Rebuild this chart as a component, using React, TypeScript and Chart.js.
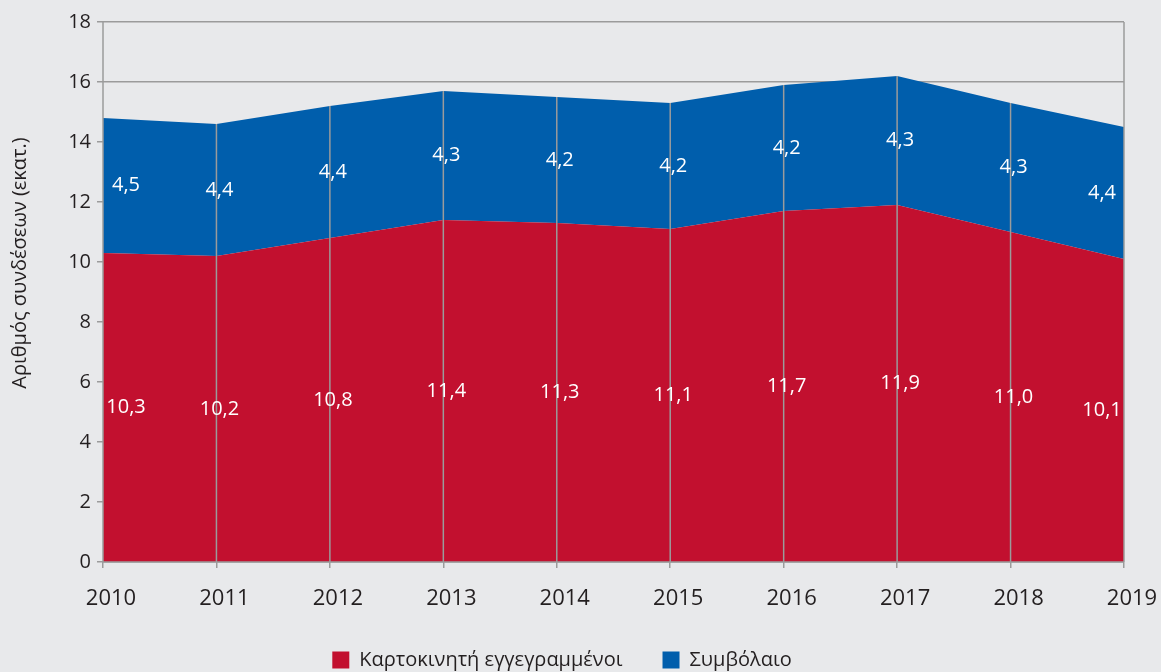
import React, { useEffect, useRef } from 'react';
import { Chart, registerables } from 'chart.js';

Chart.register(...registerables);

const years = ['2010', '2011', '2012', '2013', '2014', '2015', '2016', '2017', '2018', '2019'];
const prepaid = [10.3, 10.2, 10.8, 11.4, 11.3, 11.1, 11.7, 11.9, 11.0, 10.1];
const contract = [4.5, 4.4, 4.4, 4.3, 4.2, 4.2, 4.2, 4.3, 4.3, 4.4];
const seriesNames = ['Καρτοκινητή εγγεγραμμένοι', 'Συμβόλαιο'];
const yTitle = 'Αριθμός συνδέσεων (εκατ.)';
const yMin = 0;
const yMax = 18;
const yStep = 2;

const BG = '#e8e9eb';
const RED = '#c2102f';
const BLUE = '#005eac';
const GRID = '#9b9b9b';
const TEXT = '#231f20';
const FONT = '"Open Sans", "Noto Sans", sans-serif';

const fmt = (v: number) => v.toFixed(1).replace('.', ',');

const legendSize = {
  id: 'legendSize',
  beforeInit(chart: any) {
    const lg = chart.legend;
    if (lg && !lg.__patched) {
      const orig = lg.fit;
      lg.fit = function () {
        orig.call(this);
        this.height = 62;
      };
      lg.__patched = true;
    }
  },
};

const overlay = {
  id: 'overlay',
  afterDatasetsDraw(chart: any) {
    const { ctx, chartArea } = chart;
    const { left, right, top, bottom } = chartArea;
    const m0 = chart.getDatasetMeta(0);
    const m1 = chart.getDatasetMeta(1);
    const n = m1.data.length;
    ctx.save();
    ctx.strokeStyle = GRID;
    ctx.lineWidth = 1.5;
    for (let i = 0; i < n; i++) {
      const x = m1.data[i].x;
      const yTop = i === 0 || i === n - 1 ? top : m1.data[i].y;
      ctx.beginPath();
      ctx.moveTo(x, yTop);
      ctx.lineTo(x, bottom);
      ctx.stroke();
    }
    ctx.beginPath();
    ctx.moveTo(left, bottom);
    ctx.lineTo(right, bottom);
    ctx.stroke();

    const base = chart.scales.y.getPixelForValue(0);
    ctx.fillStyle = '#ffffff';
    ctx.font = '20px ' + FONT;
    ctx.textAlign = 'center';
    ctx.textBaseline = 'middle';
    const sets = [prepaid, contract];
    sets.forEach((vals, d) => {
      const meta = chart.getDatasetMeta(d);
      vals.forEach((v, i) => {
        const pt = meta.data[i];
        const y0 = d === 0 ? base : m0.data[i].y;
        const y = (pt.y + y0) / 2;
        let x = pt.x + 3;
        if (i === 0) x = left + 23;
        if (i === n - 1) x = right - 22;
        ctx.fillText(fmt(v), x, y);
      });
    });
    ctx.restore();
  },
  afterDraw(chart: any) {
    const { ctx, chartArea } = chart;
    ctx.save();
    ctx.fillStyle = TEXT;
    ctx.font = '20px ' + FONT;
    ctx.textAlign = 'center';
    ctx.textBaseline = 'middle';
    ctx.translate(20, chartArea.top + (chartArea.bottom - chartArea.top) / 2 - 29);
    ctx.rotate(-Math.PI / 2);
    ctx.fillText(yTitle, 0, 0);
    ctx.restore();
  },
};

export default function App() {
  const ref = useRef<HTMLCanvasElement | null>(null);

  useEffect(() => {
    document.body.style.margin = '0';
    document.body.style.background = BG;
    if (!ref.current) return;
    const chart = new Chart(ref.current, {
      type: 'line',
      data: {
        labels: years,
        datasets: [
          {
            label: seriesNames[0],
            data: prepaid,
            backgroundColor: RED,
            borderColor: 'rgba(0,0,0,0)',
            borderWidth: 0,
            fill: 'origin',
            pointRadius: 0,
            pointHoverRadius: 0,
            tension: 0,
          },
          {
            label: seriesNames[1],
            data: contract,
            backgroundColor: BLUE,
            borderColor: 'rgba(0,0,0,0)',
            borderWidth: 0,
            fill: '-1',
            pointRadius: 0,
            pointHoverRadius: 0,
            tension: 0,
          },
        ],
      },
      options: {
        animation: false,
        responsive: true,
        maintainAspectRatio: false,
        layout: { padding: { left: 0, right: 37, top: 22, bottom: 0 } },
        plugins: {
          legend: {
            position: 'bottom',
            labels: {
              boxWidth: 17,
              boxHeight: 17,
              padding: 40,
              color: TEXT,
              font: { family: FONT, size: 20 },
            },
          },
          tooltip: { enabled: false },
          title: { display: false },
        },
        scales: {
          x: {
            type: 'category',
            offset: false,
            grid: {
              display: true,
              drawOnChartArea: false,
              drawTicks: true,
              tickLength: 6,
              color: GRID,
              lineWidth: 1.5,
            },
            border: { display: false },
            ticks: {
              color: TEXT,
              font: { family: FONT, size: 22 },
              padding: 18,
              labelOffset: 8,
              maxRotation: 0,
              autoSkip: false,
            },
            afterFit(scale: any) {
              scale.height = 48;
              scale.paddingRight = 0;
              scale.paddingLeft = 0;
            },
          },
          y: {
            stacked: true,
            min: yMin,
            max: yMax,
            grid: {
              color: GRID,
              lineWidth: 1.5,
              tickLength: 6,
              drawTicks: true,
            },
            border: { display: false },
            ticks: {
              stepSize: yStep,
              color: TEXT,
              font: { family: FONT, size: 20 },
              padding: 6,
              callback: (v: any) => String(v),
            },
            afterFit(scale: any) {
              scale.width = 103;
            },
          },
        },
      },
      plugins: [legendSize, overlay],
    } as any);
    return () => chart.destroy();
  }, []);

  return (
    <div style={{ width: 1161, height: 672, background: BG, position: 'relative' }}>
      <canvas ref={ref} />
    </div>
  );
}
